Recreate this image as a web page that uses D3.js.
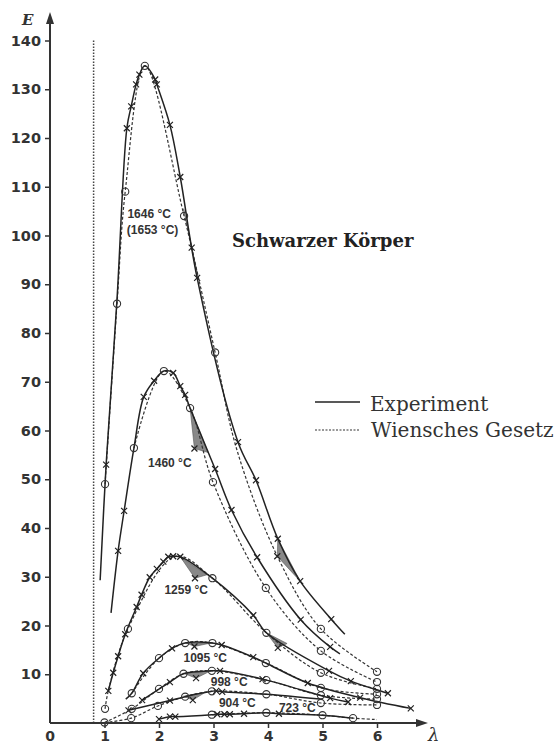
<!DOCTYPE html>
<html>
<head>
<meta charset="utf-8">
<script src="https://cdn.jsdelivr.net/npm/d3@7"></script>
<style>
  body { margin: 0; background: #fff; }
</style>
</head>
<body>
<div id="chart"></div>
<script>
// tick values
var xTicks = [1, 2, 3, 4, 5, 6];
var yTicks = [10, 20, 30, 40, 50, 60, 70, 80, 90, 100, 110, 120, 130, 140];

// temperatures (labels)
var temps = ["1646 °C", "1460 °C", "1259 °C", "1095 °C", "998 °C", "904 °C", "723 °C"];

// experiment curves: [lambda, E, cross?]
var exp1646 = [[0.92,29.3],[1.03,53,1],[1.23,87],[1.41,122,1],[1.49,126.5,1],[1.58,131,1],[1.64,133,1],[1.74,134.8],[1.93,132,1],[1.96,131,1],[2.2,122.7,1],[2.39,112,1],[2.7,91.3,1],[3.45,57.6,1],[3.78,49.8,1],[4.18,37.8,1],[4.59,29.1,1],[5.16,21.3,1],[5.41,18.2]];
var exp1460 = [[1.12,22.6],[1.25,35.3,1],[1.36,43.5,1],[1.54,56.4],[1.72,66.9,1],[1.91,70.2,1],[2.09,72.2],[2.26,71.8,1],[2.39,69.1,1],[2.48,67.3,1],[2.57,64.6],[3.03,52.1,1],[3.33,43.7,1],[3.8,34,1],[4.6,21.2,1],[5.14,15.6,1],[5.32,14.2]];
var exp1259 = [[1.07,6.6,1],[1.16,10.3,1],[1.25,13.7,1],[1.38,18.2,1],[1.59,23.8,1],[1.68,26.3,1],[1.83,29.9,1],[1.96,31.6,1],[2.08,33.1,1],[2.17,34.1,1],[2.26,34.2,1],[2.39,34.1,1],[2.98,29.7],[3.73,22.1,1],[3.97,18.5],[5.12,10.7,1],[5.52,8.6,1],[6.2,6.1,1]];
var exp1095 = [[1.39,4.9],[1.5,6.1],[1.71,10.2,1],[2.0,13.3],[2.24,15.3,1],[2.48,16.4],[2.98,16.4],[3.15,16.0,1],[3.73,13.5,1],[3.96,12.3],[4.73,8.2,1],[5.69,5.2,1],[6.62,3.0,1]];
var exp998 = [[1.69,4.7,1],[2.2,8.4,1],[2.45,10.1],[2.97,10.7],[3.12,10.7,1],[3.9,9.0,1],[5.14,5.1,1],[5.47,4.3,1]];
var exp904 = [[1.44,2.6,1],[2.2,4.6,1],[2.48,5.4],[2.97,6.5],[3.05,6.6,1],[3.16,6.4,1],[3.97,5.9],[4.95,4.9]];
var exp723 = [[2.0,0.8,1],[2.2,1.3,1],[2.3,1.3,1],[2.97,1.7],[3.07,1.8,1],[3.2,1.8,1],[3.3,1.8,1],[3.56,1.9,1],[3.97,2.1],[4.2,1.9,1],[5.0,1.6],[5.56,1.0]];

// Wien's law curves: [lambda, E, circle?]
var wien1646 = [[1.01,49,1],[1.23,86,1],[1.38,109,1],[1.74,134.8,1],[2.46,104,1],[3.03,76,1],[3.43,56],[4.18,34],[4.97,19.3,1],[6,10.5,1]];
var wien1460 = [[1.54,56.4,1],[2.09,72.2,1],[2.57,64.6,1],[2.99,49.4,1],[3.96,27.7,1],[4.97,14.8,1],[6,8.4,1]];
var wien1259 = [[1.01,2.9,1],[1.07,6.6],[1.43,19.3,1],[2.3,34.2],[2.98,29.7,1],[3.97,18.5,1],[4.97,10.3,1],[6,7.0,1]];
var wien1095 = [[1.5,6.1,1],[2.0,13.3,1],[2.48,16.4,1],[2.98,16.4,1],[3.96,12.3,1],[4.97,7.2,1],[6,5.9,1]];
var wien998 = [[1.0,0.1,1],[1.5,2.9,1],[2.0,7.0,1],[2.45,10.1,1],[2.97,10.7,1],[3.97,8.8,1],[4.97,5.7,1],[6,4.9,1]];
var wien904 = [[1.0,0.1],[1.49,1.0,1],[1.98,3.5,1],[2.48,5.4,1],[2.97,6.5,1],[3.97,5.9,1],[4.97,4.1,1],[6,3.7,1]];
var wien723 = [[2.97,1.7,1],[3.97,2.1,1],[5.0,1.6,1],[5.56,1.0,1],[6,0.7]];

// absorption dips (gray): polygon outlines, last point has the measured cross
var dips = [
  [[2.45,105.5],[2.72,91.3],[2.6,97.5]],
  [[4.18,37.8],[4.59,29.1],[4.17,34.2]],
  [[2.57,64.6],[2.9,55.5],[2.65,56.3]],
  [[2.39,34.1],[2.88,30.4],[2.66,29.7]],
  [[3.97,18.5],[4.35,16.3],[4.18,15.4]],
  [[2.5,16.4],[2.95,16.4],[2.65,15.7]],
  [[2.45,10.2],[2.95,10.7],[2.68,9.2]],
  [[2.45,5.5],[2.85,6.3],[2.62,4.7]]
];

var labelPos = [[1.42,103.5],[1.8,52.5],[2.1,26.5],[2.45,12.6],[2.95,7.6],[3.1,3.3],[4.2,2.2]];

var W = 555, H = 745;
var svg = d3.select("#chart").append("svg")
    .attr("width", W).attr("height", H)
    .style("font-family", "DejaVu Sans");

var x = d3.scaleLinear().domain([0, 6]).range([50, 377]);
var y = d3.scaleLinear().domain([0, 140]).range([723, 40.5]);

var line = d3.line()
    .x(function(d) { return x(d[0]); })
    .y(function(d) { return y(d[1]); })
    .curve(d3.curveCatmullRom.alpha(0.5));

// vertical dotted line
svg.append("line")
    .attr("x1", x(0.8)).attr("x2", x(0.8))
    .attr("y1", y(140)).attr("y2", y(0))
    .attr("stroke", "#444").attr("stroke-width", 1.5)
    .attr("stroke-dasharray", "1.5,1.5");

// dips
svg.selectAll(".dip").data(dips).enter().append("path")
    .attr("d", function(d) {
      return "M" + d.map(function(p) { return x(p[0]) + "," + y(p[1]); }).join("L") + "Z";
    })
    .attr("fill", "#888").attr("stroke", "#555").attr("stroke-width", 0.6);

var wiens = [wien1646, wien1460, wien1259, wien1095, wien998, wien904, wien723];
var exps = [exp1646, exp1460, exp1259, exp1095, exp998, exp904, exp723];

svg.selectAll(".wien").data(wiens).enter().append("path")
    .attr("d", line)
    .attr("fill", "none").attr("stroke", "#333").attr("stroke-width", 1.2)
    .attr("stroke-dasharray", "3,2");

svg.selectAll(".exp").data(exps).enter().append("path")
    .attr("d", line)
    .attr("fill", "none").attr("stroke", "#222").attr("stroke-width", 1.5);

// crosses
var crossPts = [];
exps.forEach(function(s) { s.forEach(function(p) { if (p[2]) crossPts.push(p); }); });
dips.forEach(function(s) { crossPts.push(s[s.length - 1]); });
svg.selectAll(".cross").data(crossPts).enter().append("path")
    .attr("transform", function(d) { return "translate(" + x(d[0]) + "," + y(d[1]) + ")"; })
    .attr("d", "M-3,-3L3,3M-3,3L3,-3")
    .attr("stroke", "#222").attr("stroke-width", 1.2);

// circles
var circPts = [];
wiens.forEach(function(s) { s.forEach(function(p) { if (p[2]) circPts.push(p); }); });
svg.selectAll(".circ").data(circPts).enter().append("circle")
    .attr("cx", function(d) { return x(d[0]); })
    .attr("cy", function(d) { return y(d[1]); })
    .attr("r", 3.6)
    .attr("fill", "none").attr("stroke", "#333").attr("stroke-width", 1.1);

// temperature labels
svg.selectAll(".tlab").data(temps).enter().append("text")
    .attr("x", function(d, i) { return x(labelPos[i][0]); })
    .attr("y", function(d, i) { return y(labelPos[i][1]); })
    .text(function(d) { return d; })
    .attr("font-family", "Liberation Sans, Arial, sans-serif")
    .attr("font-weight", "bold").attr("font-size", 12).attr("fill", "#333");
svg.append("text")
    .attr("x", x(1.41)).attr("y", y(100.4))
    .text("(1653 °C)")
    .attr("font-family", "Liberation Sans, Arial, sans-serif")
    .attr("font-weight", "bold").attr("font-size", 12).attr("fill", "#333");

// axes
var yAxis = d3.axisLeft(y).tickValues(yTicks).tickSize(5).tickPadding(4);
var gy = svg.append("g").attr("transform", "translate(" + x(0) + ",0)").call(yAxis);
gy.select(".domain").remove();
gy.selectAll("text").attr("font-family", "DejaVu Sans").attr("font-weight", "bold")
    .attr("font-size", 14.5).attr("fill", "#333");
gy.selectAll("line").attr("stroke", "#333").attr("stroke-width", 1.5);

var xAxis = d3.axisBottom(x).tickValues(xTicks).tickFormat(d3.format("d")).tickSize(5).tickPadding(3);
var gx = svg.append("g").attr("transform", "translate(0," + y(0) + ")").call(xAxis);
gx.select(".domain").remove();
gx.selectAll("text").attr("font-family", "DejaVu Sans").attr("font-weight", "bold")
    .attr("font-size", 14).attr("fill", "#333");
gx.selectAll("line").attr("stroke", "#333").attr("stroke-width", 1.5);

svg.append("text").attr("x", x(0)).attr("y", 741).attr("text-anchor", "middle")
    .text("0").attr("font-family", "DejaVu Sans").attr("font-weight", "bold")
    .attr("font-size", 14).attr("fill", "#333");

// axis lines with arrows
svg.append("line").attr("x1", x(0)).attr("x2", x(0)).attr("y1", y(0)).attr("y2", 16)
    .attr("stroke", "#333").attr("stroke-width", 2);
svg.append("path").attr("d", "M" + x(0) + ",12L" + (x(0) - 4) + ",24L" + (x(0) + 4) + ",24Z").attr("fill", "#333");
svg.append("line").attr("x1", x(0)).attr("x2", 424).attr("y1", y(0)).attr("y2", y(0))
    .attr("stroke", "#333").attr("stroke-width", 2);
svg.append("path").attr("d", "M428," + y(0) + "L416," + (y(0) - 4) + "L416," + (y(0) + 4) + "Z").attr("fill", "#333");

svg.append("text").attr("x", 22).attr("y", 25).text("E")
    .attr("font-family", "DejaVu Serif").attr("font-style", "italic").attr("font-weight", "bold")
    .attr("font-size", 15).attr("fill", "#333");
svg.append("text").attr("x", 428).attr("y", 741).text("λ")
    .attr("font-family", "DejaVu Serif").attr("font-style", "italic")
    .attr("font-size", 18).attr("fill", "#333");

// title
svg.append("text").attr("x", 232).attr("y", 247).text("Schwarzer Körper")
    .attr("font-family", "DejaVu Serif").attr("font-weight", "bold")
    .attr("font-size", 18).attr("fill", "#222");

// legend
svg.append("line").attr("x1", 315).attr("x2", 360).attr("y1", 402).attr("y2", 402)
    .attr("stroke", "#222").attr("stroke-width", 1.4);
svg.append("line").attr("x1", 315).attr("x2", 360).attr("y1", 430).attr("y2", 430)
    .attr("stroke", "#333").attr("stroke-width", 1.2).attr("stroke-dasharray", "2,1.5");
svg.append("text").attr("x", 370).attr("y", 411).text("Experiment")
    .attr("font-family", "DejaVu Serif").attr("font-size", 20).attr("fill", "#333");
svg.append("text").attr("x", 371).attr("y", 437).text("Wiensches Gesetz")
    .attr("font-family", "DejaVu Serif").attr("font-size", 20).attr("fill", "#333");
</script>
</body>
</html>
